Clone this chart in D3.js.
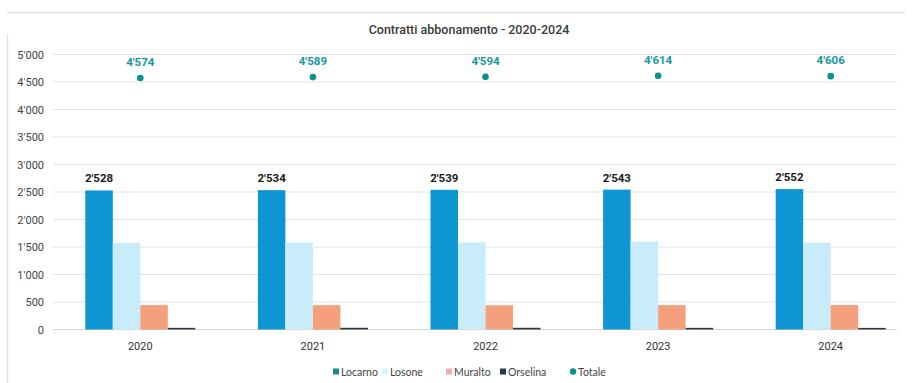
<!DOCTYPE html>
<html>
<head>
<meta charset="utf-8">
<script src="https://cdn.jsdelivr.net/npm/d3@7"></script>
<style>
  body { margin: 0; background: #fff; }
  svg { display: block; font-family: Roboto, "Liberation Sans", sans-serif; }
</style>
</head>
<body>
<div id="chart"></div>
<script>
// data
var years = ["2020", "2021", "2022", "2023", "2024"];
var series = ["Locarno", "Losone", "Muralto", "Orselina"];
var locarno = [2528, 2534, 2539, 2543, 2552];
var losone = [1573, 1582, 1583, 1598, 1581];
var muralto = [443, 442, 441, 443, 444];
var orselina = [30, 31, 31, 30, 29];
var totale = [4574, 4589, 4594, 4614, 4606];
var yTicks = [0, 500, 1000, 1500, 2000, 2500, 3000, 3500, 4000, 4500, 5000];

var colors = {Locarno: "#0e96d3", Losone: "#c8ecfa", Muralto: "#f4a07c", Orselina: "#2c3a42"};
var legendColors = {Locarno: "#178c86", Losone: "#d8f1fb", Muralto: "#f5aab0", Orselina: "#2c3a42", Totale: "#0b8f8f"};
var values = {Locarno: locarno, Losone: losone, Muralto: muralto, Orselina: orselina};

var width = 919, height = 383;

var svg = d3.select("#chart").append("svg")
    .attr("width", width)
    .attr("height", height);

// frame lines
svg.append("line").attr("x1", 7).attr("x2", 905).attr("y1", 12.5).attr("y2", 12.5)
    .attr("stroke", "#e2e2e2").attr("stroke-width", 1.5);
svg.append("line").attr("x1", 7.5).attr("x2", 7.5).attr("y1", 34).attr("y2", 383)
    .attr("stroke", "#e2e2e2").attr("stroke-width", 1.5);

svg.append("text")
    .attr("x", 469).attr("y", 34)
    .attr("text-anchor", "middle")
    .attr("font-size", 12.5).attr("font-weight", 500)
    .attr("fill", "#3a3a3a")
    .text("Contratti abbonamento - 2020-2024");

var y = d3.scaleLinear().domain([0, 5000]).range([329.5, 54.5]);
var x0 = d3.scalePoint().domain(years).range([54, 917]).padding(0.5);
var x1 = d3.scaleBand().domain(series).range([-55, 55]);

// gridlines
svg.append("g").selectAll("line").data(yTicks).join("line")
    .attr("x1", 53).attr("x2", 897)
    .attr("y1", function(d){ return y(d); })
    .attr("y2", function(d){ return y(d); })
    .attr("stroke", function(d){ return d == 0 ? "#d4d4d4" : "#e4e4e4"; })
    .attr("stroke-width", 1.2);

// y labels
svg.append("g").selectAll("text").data(yTicks).join("text")
    .attr("x", 44).attr("y", function(d){ return y(d) + 4; })
    .attr("text-anchor", "end")
    .attr("font-size", 11).attr("fill", "#444")
    .text(function(d){ return d3.format(",")(d).replace(",", "'"); });

// bars
var groups = svg.append("g").selectAll("g").data(years).join("g")
    .attr("transform", function(d){ return "translate(" + x0(d) + ",0)"; });

groups.selectAll("rect")
    .data(function(d, i){ return series.map(function(s){ return {s: s, v: values[s][i]}; }); })
    .join("rect")
    .attr("x", function(d){ return x1(d.s); })
    .attr("width", x1.bandwidth())
    .attr("y", function(d){ return y(d.v); })
    .attr("height", function(d){ return y(0) - y(d.v); })
    .attr("fill", function(d){ return colors[d.s]; });

// Locarno labels
svg.append("g").selectAll("text").data(years).join("text")
    .attr("x", function(d){ return x0(d) + x1("Locarno") + x1.bandwidth() / 2; })
    .attr("y", function(d, i){ return y(locarno[i]) - 8; })
    .attr("text-anchor", "middle")
    .attr("font-size", 11.5).attr("font-weight", "bold").attr("fill", "#1a1a1a")
    .text(function(d, i){ return d3.format(",")(locarno[i]).replace(",", "'"); });

// Totale dots
svg.append("g").selectAll("circle").data(years).join("circle")
    .attr("cx", function(d){ return x0(d); })
    .attr("cy", function(d, i){ return y(totale[i]); })
    .attr("r", 3.3)
    .attr("fill", legendColors.Totale);

svg.append("g").selectAll("text").data(years).join("text")
    .attr("x", function(d){ return x0(d); })
    .attr("y", function(d, i){ return y(totale[i]) - 12; })
    .attr("text-anchor", "middle")
    .attr("font-size", 11.5).attr("font-weight", "bold").attr("fill", "#1697a0")
    .text(function(d, i){ return d3.format(",")(totale[i]).replace(",", "'"); });

// x labels
svg.append("g").selectAll("text").data(years).join("text")
    .attr("x", function(d){ return x0(d); })
    .attr("y", 350)
    .attr("text-anchor", "middle")
    .attr("font-size", 11).attr("fill", "#333")
    .text(function(d){ return d; });

// legend
var legendItems = [
  {name: "Locarno", x: 333, shape: "rect"},
  {name: "Losone", x: 382, shape: "rect"},
  {name: "Muralto", x: 446, shape: "rect"},
  {name: "Orselina", x: 500, shape: "rect"},
  {name: "Totale", x: 570, shape: "circle"}
];
var leg = svg.append("g").selectAll("g").data(legendItems).join("g")
    .attr("transform", function(d){ return "translate(" + d.x + ",372)"; });
leg.filter(function(d){ return d.shape == "rect"; }).append("rect")
    .attr("x", 0).attr("y", -3.5).attr("width", 6).attr("height", 6)
    .attr("fill", function(d){ return legendColors[d.name]; });
leg.filter(function(d){ return d.shape == "circle"; }).append("circle")
    .attr("cx", 3).attr("cy", -0.5).attr("r", 3.2)
    .attr("fill", legendColors.Totale);
leg.append("text")
    .attr("x", 8).attr("y", 3.5)
    .attr("font-family", "Lato, sans-serif")
    .attr("font-size", 10.5).attr("fill", "#444")
    .text(function(d){ return d.name; });
</script>
</body>
</html>
